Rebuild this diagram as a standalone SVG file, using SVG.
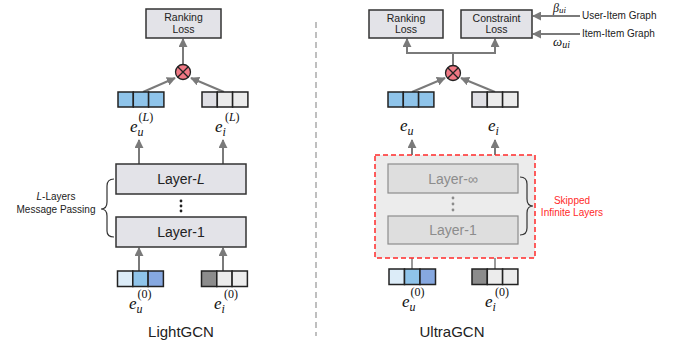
<svg xmlns="http://www.w3.org/2000/svg" width="685" height="347" viewBox="0 0 685 347">
<defs>
<marker id="ah2" viewBox="0 0 10 10" refX="9" refY="5" markerWidth="9" markerHeight="9" orient="auto" markerUnits="userSpaceOnUse">
<path d="M0,0 L10,5 L0,10 z" fill="#7a7a7a"/>
</marker>
<marker id="ahl2" viewBox="0 0 10 10" refX="9" refY="5" markerWidth="9" markerHeight="9" orient="auto" markerUnits="userSpaceOnUse">
<path d="M0,0 L10,5 L0,10 z" fill="#9a9a9a"/>
</marker>
</defs>
<style>
.box{fill:#e3e3e8;stroke:#333;stroke-width:1.5}
.gbox{fill:#dedede;stroke:#8c8c8c;stroke-width:1.2}
.t{font-family:"Liberation Sans",Arial,sans-serif;fill:#222;text-anchor:middle}
.st{font-family:"Liberation Sans",Arial,sans-serif;fill:#222;text-anchor:start;font-size:10px}
.lt{font-size:10.5px}
.ly{font-size:14px}
.gt{fill:#8c8c8c}
.red{fill:#ff2a2a;font-size:10px}
.m{font-family:"Liberation Serif","DejaVu Serif",serif;font-style:italic;fill:#111}
.up{font-style:normal}
.cell{stroke:#222;stroke-width:1.5}
.ln{stroke:#7a7a7a;stroke-width:2;fill:none}
.lnl{stroke:#9a9a9a;stroke-width:2;fill:none}
.brace{stroke:#333;stroke-width:1.2;fill:none}
.otimes{fill:#f07884;stroke:#222;stroke-width:1.3}
</style>

<!-- divider -->
<line x1="316" y1="22" x2="316" y2="336" stroke="#aaa" stroke-width="1.5" stroke-dasharray="6,4"/>

<!-- connectors -->
<g id="connectors">
<line class="ln" x1="183" y1="64" x2="183" y2="39" marker-end="url(#ah2)"/>
<line class="ln" x1="143" y1="92" x2="175" y2="78" marker-end="url(#ah2)"/>
<line class="ln" x1="224" y1="92" x2="191" y2="78" marker-end="url(#ah2)"/>
<line class="ln" x1="139" y1="164" x2="139" y2="140" marker-end="url(#ah2)"/>
<line class="ln" x1="223" y1="164" x2="223" y2="140" marker-end="url(#ah2)"/>
<line class="ln" x1="139" y1="271" x2="139" y2="248" marker-end="url(#ah2)"/>
<line class="ln" x1="223" y1="271" x2="223" y2="248" marker-end="url(#ah2)"/>
<polyline class="ln" points="453,65 453,53 407,53 407,39" marker-end="url(#ah2)"/>
<polyline class="ln" points="453,53 495,53 495,39" marker-end="url(#ah2)"/>
<line class="ln" x1="412" y1="92" x2="445" y2="78" marker-end="url(#ah2)"/>
<line class="ln" x1="495" y1="92" x2="461" y2="78" marker-end="url(#ah2)"/>
<line class="ln" x1="412" y1="164" x2="412" y2="140" marker-end="url(#ah2)"/>
<line class="ln" x1="495" y1="164" x2="495" y2="140" marker-end="url(#ah2)"/>
<line class="lnl" x1="412" y1="269" x2="412" y2="246" marker-end="url(#ahl2)"/>
<line class="lnl" x1="495" y1="269" x2="495" y2="246" marker-end="url(#ahl2)"/>
<line class="ln" x1="580" y1="16" x2="533" y2="16" marker-end="url(#ah2)"/>
<line class="ln" x1="580" y1="34" x2="533" y2="34" marker-end="url(#ah2)"/>
</g>

<!-- ===== LightGCN ===== -->
<g id="lg-ranking-loss">
<rect class="box" x="146" y="9" width="75" height="29"/>
<text class="t lt" x="183.5" y="21">Ranking</text>
<text class="t lt" x="183.5" y="33">Loss</text>
</g>
<g id="lg-otimes">
<circle class="otimes" cx="183" cy="72" r="7.5"/>
<path d="M177.7,66.7 L188.3,77.3 M188.3,66.7 L177.7,77.3" stroke="#222" stroke-width="1.3"/>
</g>
<g id="lg-eu-L">
<rect class="cell" x="118" y="92" width="15.3" height="15" fill="#8fc4ea"/>
<rect class="cell" x="133.3" y="92" width="15.3" height="15" fill="#8fc4ea"/>
<rect class="cell" x="148.6" y="92" width="15.3" height="15" fill="#8fc4ea"/>
<text class="m" x="130" y="132" font-size="17">e<tspan font-size="12" dy="4">u</tspan><tspan class="up" font-size="12" dx="-5" dy="-15">(</tspan><tspan font-size="12">L</tspan><tspan class="up" font-size="12">)</tspan></text>
</g>
<g id="lg-ei-L">
<rect class="cell" x="202" y="92" width="15.3" height="15" fill="#dfdfe4"/>
<rect class="cell" x="217.3" y="92" width="15.3" height="15" fill="#ececec"/>
<rect class="cell" x="232.6" y="92" width="15.3" height="15" fill="#ececec"/>
<text class="m" x="215" y="132" font-size="17">e<tspan font-size="12" dy="4">i</tspan><tspan class="up" font-size="12" dx="-1" dy="-15">(</tspan><tspan font-size="12">L</tspan><tspan class="up" font-size="12">)</tspan></text>
</g>
<g id="lg-layer-L">
<rect class="box" x="116" y="164" width="130" height="30"/>
<text class="t ly" x="181" y="184">Layer-<tspan font-style="italic">L</tspan></text>
</g>
<g id="lg-dots">
<circle cx="181" cy="201" r="1.4" fill="#222"/>
<circle cx="181" cy="206" r="1.4" fill="#222"/>
<circle cx="181" cy="211" r="1.4" fill="#222"/>
</g>
<g id="lg-layer-1">
<rect class="box" x="116" y="217" width="130" height="30"/>
<text class="t ly" x="181" y="237">Layer-1</text>
</g>
<g id="lg-brace">
<path class="brace" d="M114,179 Q107,179 107,186 L107,202 Q107,209 101,209 Q107,209 107,216 L107,231 Q107,237 114,237"/>
<text class="t" x="56" y="200" font-size="10"><tspan font-style="italic">L</tspan>-Layers</text>
<text class="t" x="56" y="213" font-size="10">Message Passing</text>
</g>
<g id="lg-eu-0">
<rect class="cell" x="117.5" y="271" width="15.3" height="15.5" fill="#dcecf8"/>
<rect class="cell" x="132.8" y="271" width="15.3" height="15.5" fill="#8fc4ea"/>
<rect class="cell" x="148.1" y="271" width="15.3" height="15.5" fill="#86a8e0"/>
<text class="m" x="129" y="309" font-size="17">e<tspan font-size="12" dy="4">u</tspan><tspan class="up" font-size="12" dx="-5" dy="-15">(0)</tspan></text>
</g>
<g id="lg-ei-0">
<rect class="cell" x="201.5" y="271" width="15.3" height="15.5" fill="#8c8c8c"/>
<rect class="cell" x="216.8" y="271" width="15.3" height="15.5" fill="#ececec"/>
<rect class="cell" x="232.1" y="271" width="15.3" height="15.5" fill="#ececec"/>
<text class="m" x="214" y="309" font-size="17">e<tspan font-size="12" dy="4">i</tspan><tspan class="up" font-size="12" dx="-1" dy="-15">(0)</tspan></text>
</g>
<text class="t" x="181" y="337" font-size="15">LightGCN</text>

<!-- ===== UltraGCN ===== -->
<g id="ug-ranking-loss">
<rect class="box" x="369" y="10" width="74" height="28"/>
<text class="t lt" x="406" y="22">Ranking</text>
<text class="t lt" x="406" y="33">Loss</text>
</g>
<g id="ug-constraint-loss">
<rect class="box" x="461" y="10" width="71" height="28"/>
<text class="t lt" x="496.5" y="22">Constraint</text>
<text class="t lt" x="496.5" y="33">Loss</text>
</g>
<g id="ug-graphs">
<text class="st" x="582" y="19">User-Item Graph</text>
<text class="st" x="582" y="37">Item-Item Graph</text>
<text class="m" x="553" y="12" font-size="12">β<tspan font-size="9" dy="1">ui</tspan></text>
<text class="m" x="553" y="46" font-size="13">ω<tspan font-size="10" dy="2">ui</tspan></text>
</g>
<g id="ug-otimes">
<circle class="otimes" cx="453" cy="73" r="7.5"/>
<path d="M447.7,67.7 L458.3,78.3 M458.3,67.7 L447.7,78.3" stroke="#222" stroke-width="1.3"/>
</g>
<g id="ug-eu">
<rect class="cell" x="388" y="92" width="15.3" height="15" fill="#8fc4ea"/>
<rect class="cell" x="403.3" y="92" width="15.3" height="15" fill="#8fc4ea"/>
<rect class="cell" x="418.6" y="92" width="15.3" height="15" fill="#8fc4ea"/>
<text class="m" x="400" y="131" font-size="17">e<tspan font-size="12" dy="4">u</tspan></text>
</g>
<g id="ug-ei">
<rect class="cell" x="472" y="92" width="15.3" height="15" fill="#dfdfe4"/>
<rect class="cell" x="487.3" y="92" width="15.3" height="15" fill="#ececec"/>
<rect class="cell" x="502.6" y="92" width="15.3" height="15" fill="#ececec"/>
<text class="m" x="488" y="131" font-size="17">e<tspan font-size="12" dy="4">i</tspan></text>
</g>
<g id="ug-skipped">
<rect x="375" y="155" width="160" height="103" fill="#ececec" stroke="#ff2a2a" stroke-width="1.5" stroke-dasharray="5,3"/>
</g>
<g id="ug-layer-inf">
<rect class="gbox" x="388" y="164" width="130" height="29"/>
<text class="t ly gt" x="453" y="184">Layer-∞</text>
</g>
<g id="ug-dots">
<circle cx="453" cy="198" r="1.4" fill="#8c8c8c"/>
<circle cx="453" cy="204" r="1.4" fill="#8c8c8c"/>
<circle cx="453" cy="210" r="1.4" fill="#8c8c8c"/>
</g>
<g id="ug-layer-1">
<rect class="gbox" x="388" y="216" width="130" height="28"/>
<text class="t ly gt" x="453" y="235">Layer-1</text>
</g>
<g id="ug-brace">
<path class="brace" stroke="#777" d="M520,177 Q527,177 527,184 L527,199 Q527,206 533,206 Q527,206 527,213 L527,228 Q527,235 520,235"/>
<text class="t red" x="572" y="204">Skipped</text>
<text class="t red" x="572" y="216">Infinite Layers</text>
</g>
<g id="ug-eu-0">
<rect class="cell" x="389" y="269" width="15.5" height="15.5" fill="#dcecf8"/>
<rect class="cell" x="404.5" y="269" width="15.5" height="15.5" fill="#8fc4ea"/>
<rect class="cell" x="420" y="269" width="15.5" height="15.5" fill="#86a8e0"/>
<text class="m" x="402" y="307" font-size="17">e<tspan font-size="12" dy="4">u</tspan><tspan class="up" font-size="12" dx="-5" dy="-15">(0)</tspan></text>
</g>
<g id="ug-ei-0">
<rect class="cell" x="472" y="269" width="15.3" height="15.5" fill="#8c8c8c"/>
<rect class="cell" x="487.3" y="269" width="15.3" height="15.5" fill="#ececec"/>
<rect class="cell" x="502.6" y="269" width="15.3" height="15.5" fill="#ececec"/>
<text class="m" x="485" y="307" font-size="17">e<tspan font-size="12" dy="4">i</tspan><tspan class="up" font-size="12" dx="-1" dy="-15">(0)</tspan></text>
</g>
<text class="t" x="452" y="337" font-size="15">UltraGCN</text>
</svg>
